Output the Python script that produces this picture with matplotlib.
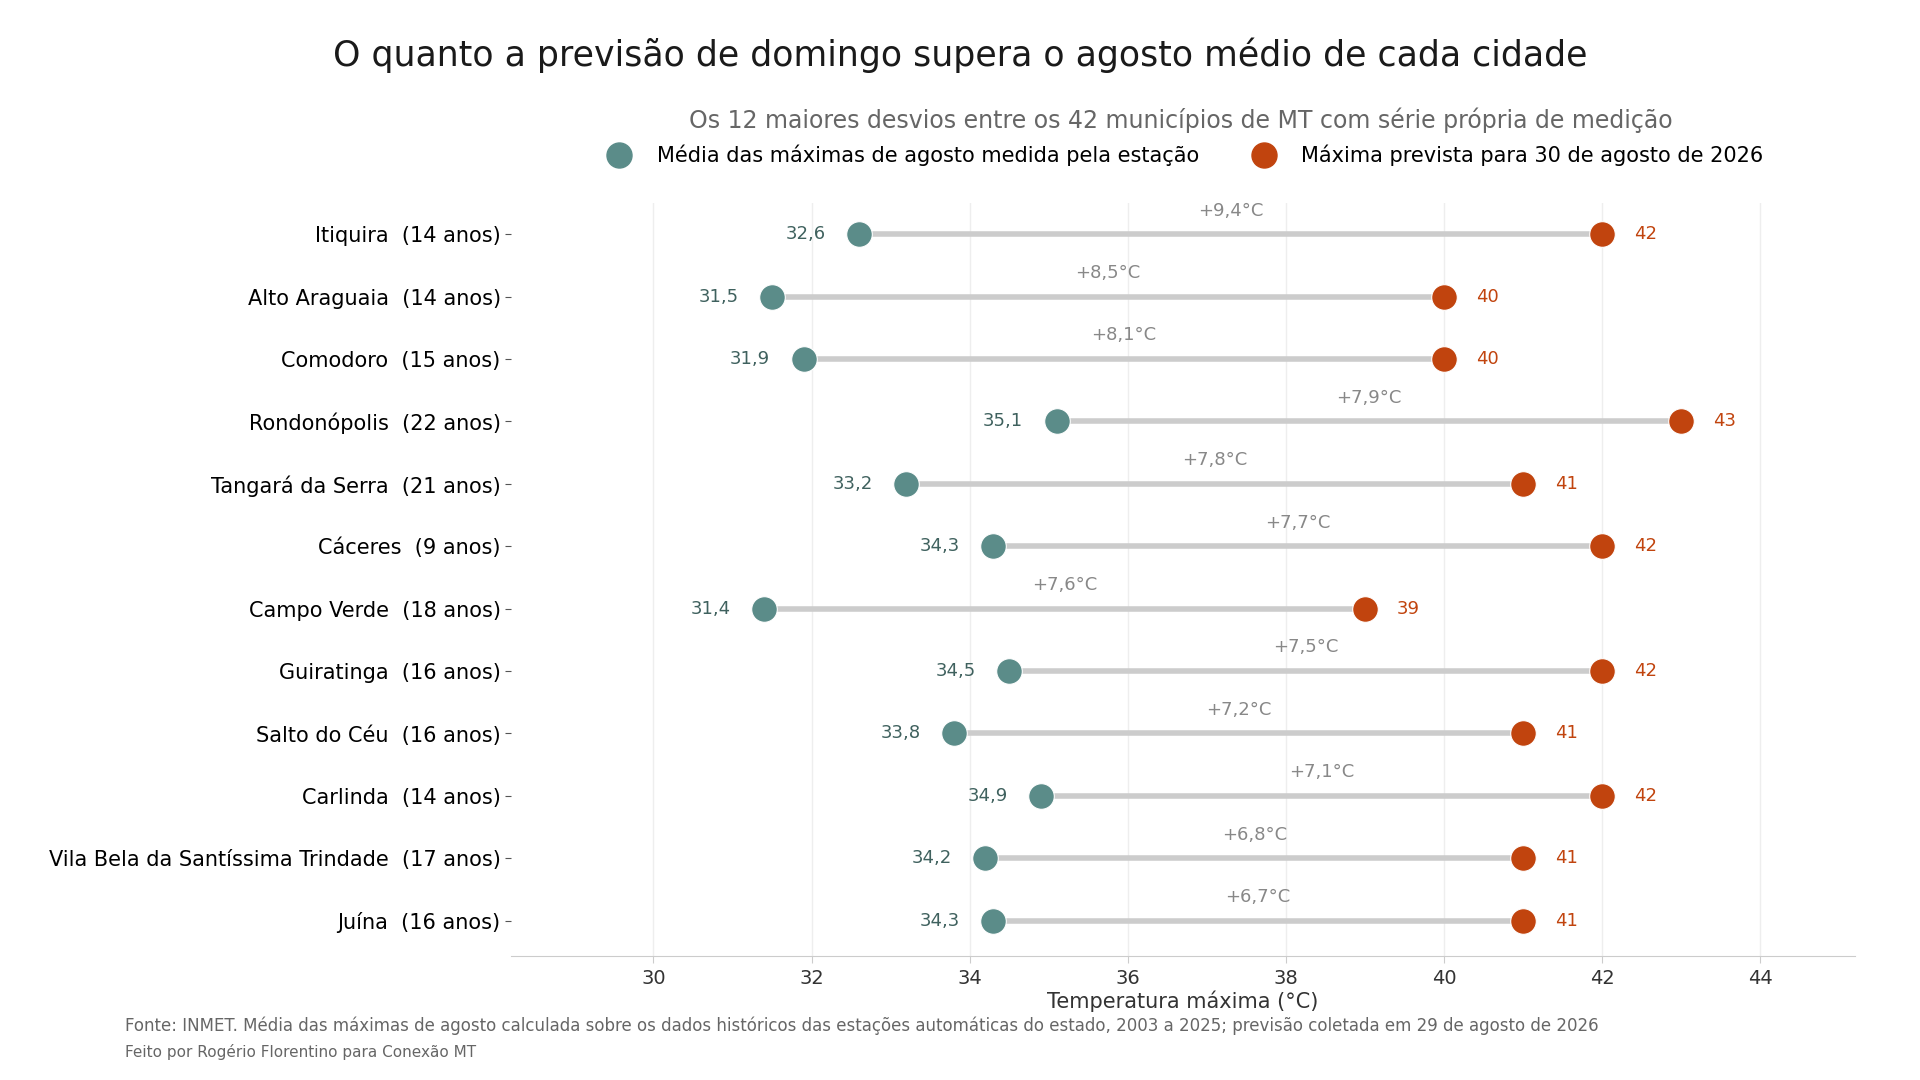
import matplotlib.pyplot as plt
from matplotlib.lines import Line2D

cities = [
    "Itiquira", "Alto Araguaia", "Comodoro", "Rondonópolis", "Tangará da Serra",
    "Cáceres", "Campo Verde", "Guiratinga", "Salto do Céu", "Carlinda",
    "Vila Bela da Santíssima Trindade", "Juína",
]
years = [14, 14, 15, 22, 21, 9, 18, 16, 16, 14, 17, 16]
august_mean = [32.6, 31.5, 31.9, 35.1, 33.2, 34.3, 31.4, 34.5, 33.8, 34.9, 34.2, 34.3]
forecast = [42, 40, 40, 43, 41, 42, 39, 42, 41, 42, 41, 41]

TEAL = "#5b8c89"
TEAL_TXT = "#3f615e"
ORANGE = "#c1440e"
GREY = "#cccccc"


def fmt(v):
    return f"{v:.1f}".replace(".", ",")


fig = plt.figure(figsize=(19.2, 10.8), dpi=100)
ax = fig.add_axes([0.2662, 0.1146, 0.7, 0.6975])

ypos = list(range(len(cities)))
for y, a, f in zip(ypos, august_mean, forecast):
    ax.plot([a, f], [y, y], color=GREY, lw=4, solid_capstyle="butt", zorder=1)
    ax.annotate(fmt(a), (a, y), xytext=(-24, 0), textcoords="offset points",
                ha="right", va="center", fontsize=13, color=TEAL_TXT)
    ax.annotate(f"{f:g}", (f, y), xytext=(23, 0), textcoords="offset points",
                ha="left", va="center", fontsize=13, color=ORANGE)
    ax.annotate(f"+{fmt(f - a)}°C", ((a + f) / 2, y), xytext=(0, 17),
                textcoords="offset points", ha="center", va="center",
                fontsize=13, color="#888888")

ax.scatter(august_mean, ypos, s=340, color=TEAL, edgecolor="white", lw=0.8, zorder=3)
ax.scatter(forecast, ypos, s=340, color=ORANGE, edgecolor="white", lw=0.8, zorder=3)

ax.set_yticks(ypos)
ax.set_yticklabels([f"{c}  ({n} anos)" for c, n in zip(cities, years)], fontsize=15)
ax.set_ylim(11.57, -0.5)
ax.set_xlim(28.2, 45.2)
ax.set_xticks(range(30, 46, 2))
ax.tick_params(axis="x", labelsize=14, colors="#333333", length=5, color="#cccccc", pad=4)
ax.tick_params(axis="y", length=4, color="#555555")
ax.grid(axis="x", color="#eeeeee", lw=1)
ax.set_axisbelow(True)
for side in ["top", "right", "left"]:
    ax.spines[side].set_visible(False)
ax.spines["bottom"].set_color("#cccccc")
ax.set_xlabel("Temperatura máxima (°C)", fontsize=15, color="#333333", labelpad=2)

fig.text(0.5, 0.949, "O quanto a previsão de domingo supera o agosto médio de cada cidade",
         ha="center", va="center", fontsize=25, color="#1a1a1a")
fig.text(0.615, 0.889, "Os 12 maiores desvios entre os 42 municípios de MT com série própria de medição",
         ha="center", va="center", fontsize=17, color="#666666")

handles = [
    Line2D([], [], marker="o", ls="", ms=18, color=TEAL, label="Média das máximas de agosto medida pela estação"),
    Line2D([], [], marker="o", ls="", ms=18, color=ORANGE, label="Máxima prevista para 30 de agosto de 2026"),
]
fig.legend(handles=handles, loc="center", bbox_to_anchor=(0.615, 0.856), ncol=2,
           frameon=False, fontsize=15, columnspacing=2.1, handletextpad=0.8)

fig.text(0.065, 0.050, "Fonte: INMET. Média das máximas de agosto calculada sobre os dados históricos das "
         "estações automáticas do estado, 2003 a 2025; previsão coletada em 29 de agosto de 2026",
         ha="left", va="center", fontsize=12, color="#666666")
fig.text(0.065, 0.026, "Feito por Rogério Florentino para Conexão MT",
         ha="left", va="center", fontsize=11, color="#666666")

fig.savefig("out.png", dpi=100)
